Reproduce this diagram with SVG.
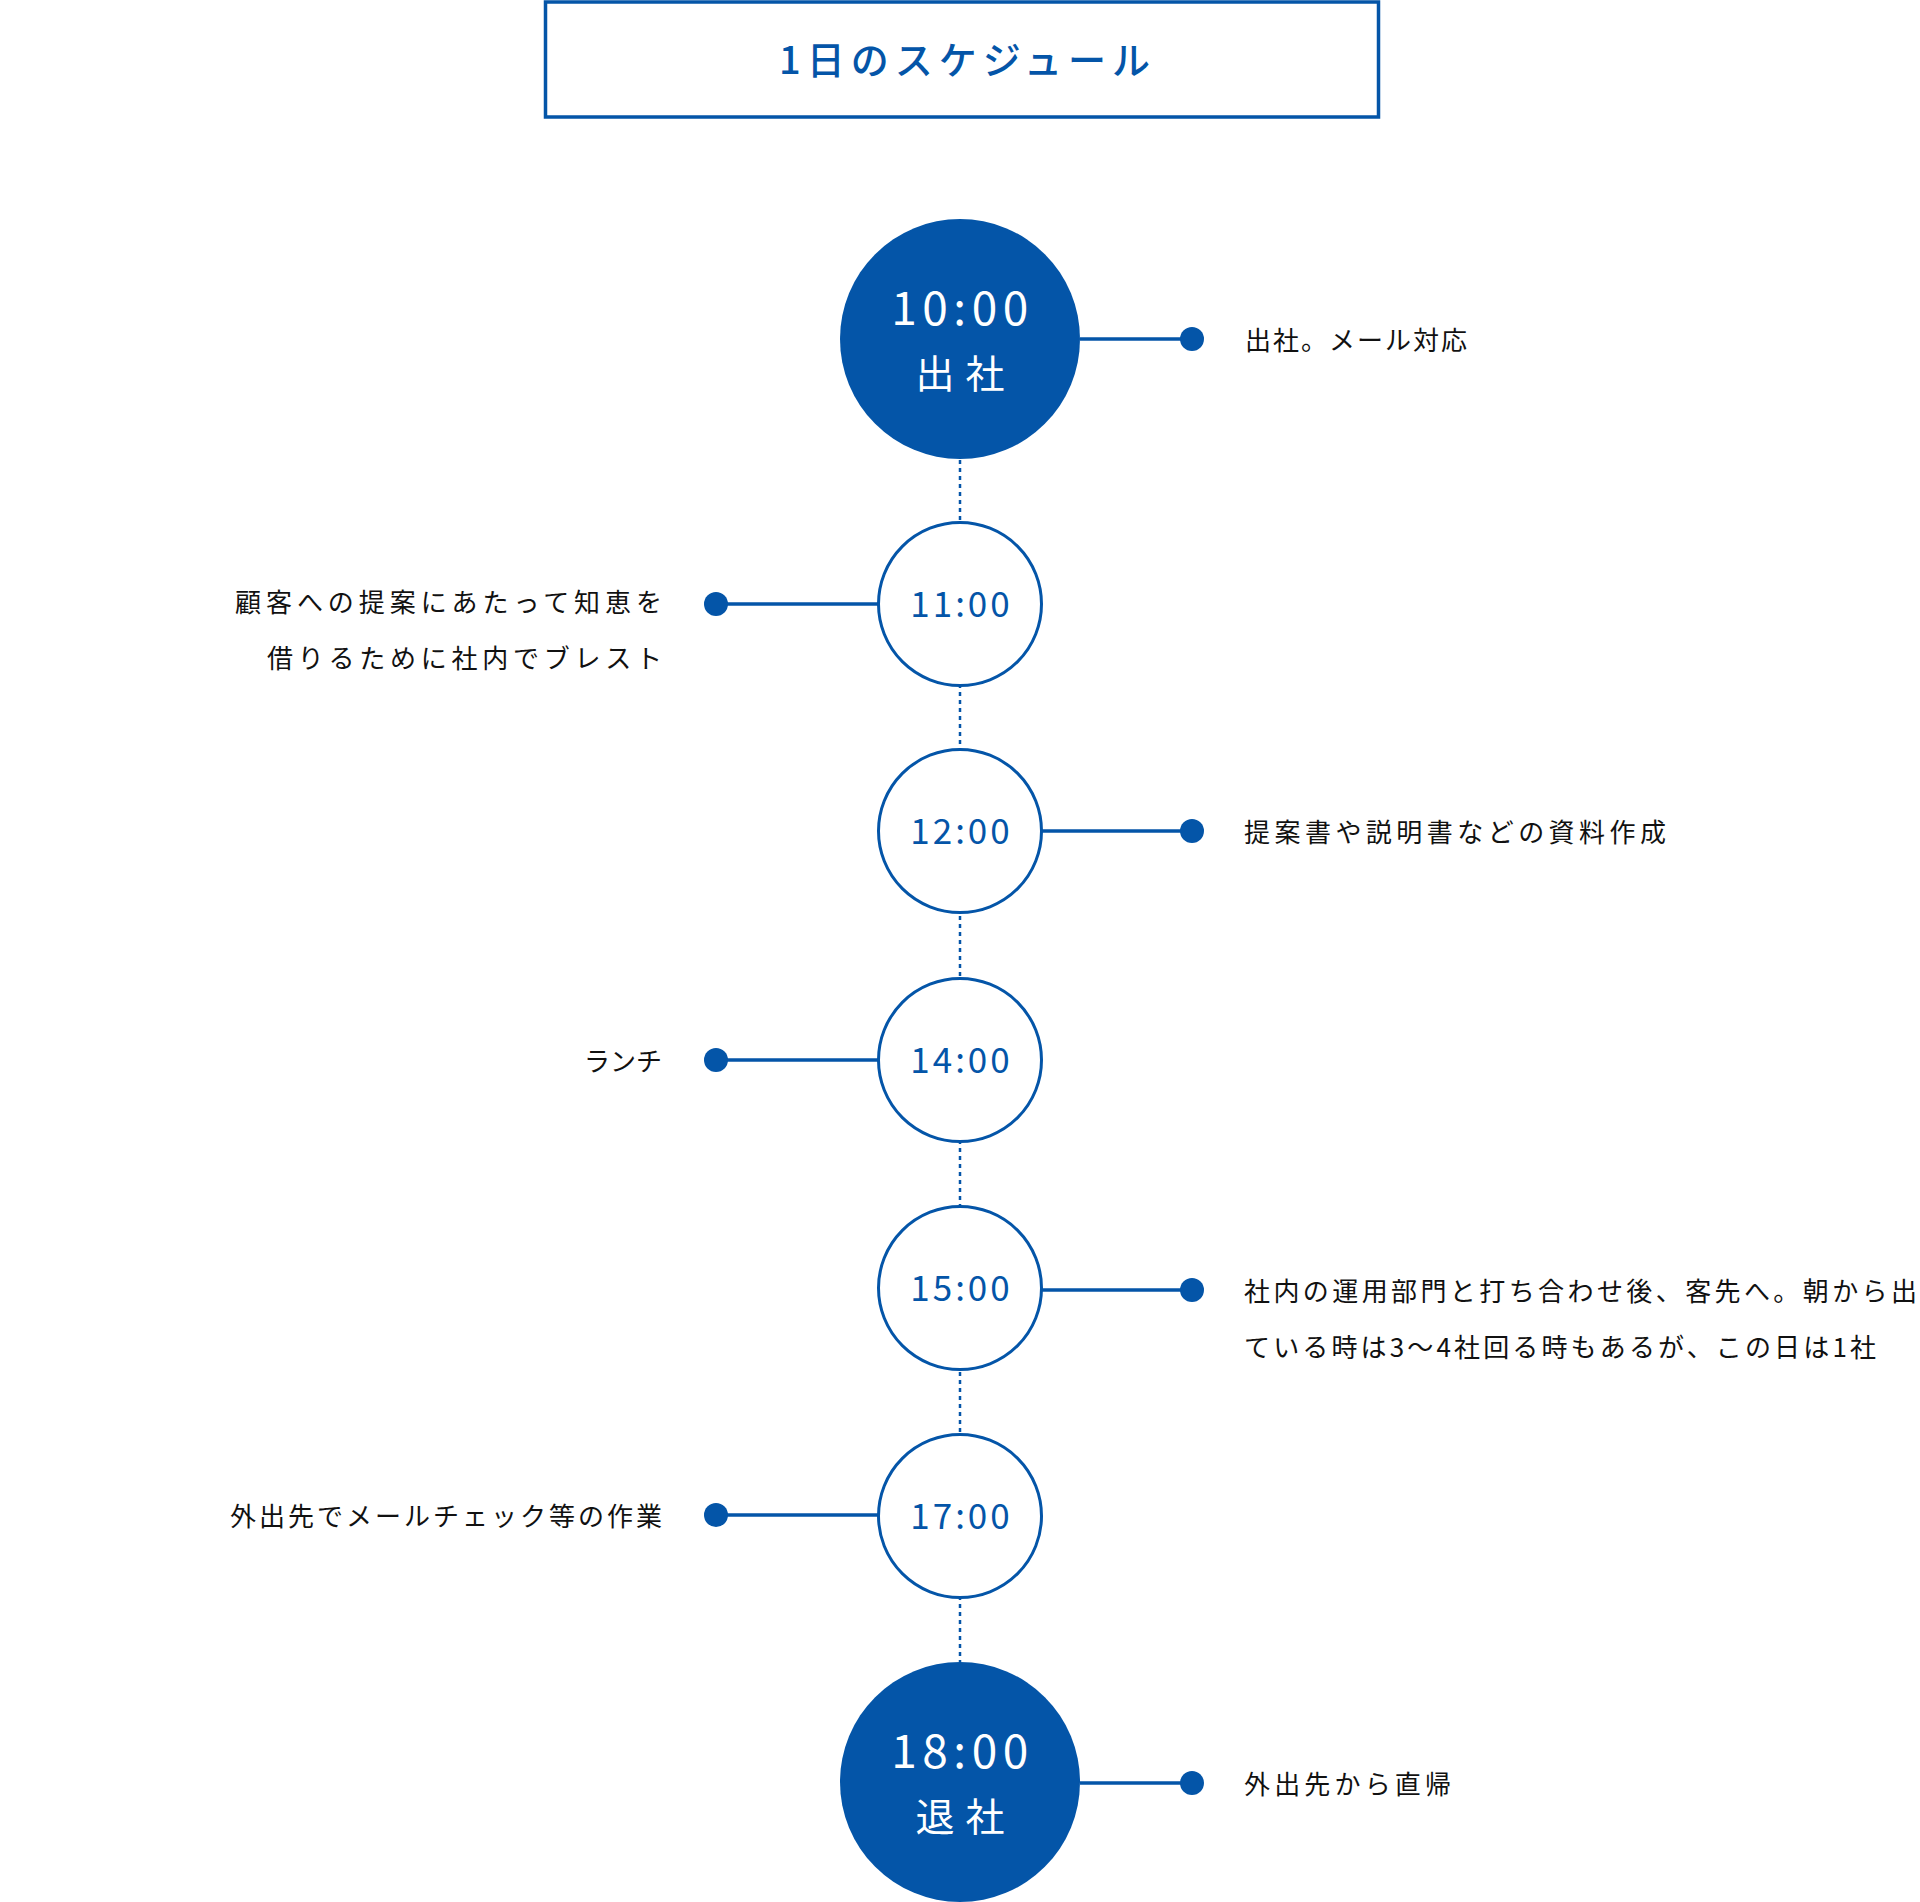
<svg xmlns="http://www.w3.org/2000/svg" width="1920" height="1902" viewBox="0 0 1920 1902">
<style>
.body{font-family:"Noto Sans CJK JP","Noto Sans",sans-serif;font-size:26px;fill:#111;}
.title{font-family:"Noto Sans CJK JP","Noto Sans",sans-serif;font-size:38px;font-weight:500;fill:#0455a8;}
.tsmall{font-family:"Noto Sans CJK JP","Noto Sans",sans-serif;font-size:35px;font-weight:400;fill:#0455a8;letter-spacing:3px;}
.tbig{font-family:"Noto Sans CJK JP","Noto Sans",sans-serif;font-size:46px;font-weight:400;fill:#fff;letter-spacing:5.5px;}
.tbigj{font-family:"Noto Sans CJK JP","Noto Sans",sans-serif;font-size:39px;font-weight:400;fill:#fff;letter-spacing:11px;}
.big{fill:#0455a8;}
.small{fill:#fff;stroke:#0455a8;stroke-width:3;}
.link{stroke:#0455a8;stroke-width:3.5;fill:none;}
.dot{fill:#0455a8;}
.dash{stroke:#0455a8;stroke-width:2.5;stroke-dasharray:4 4;fill:none;}
</style>
<rect width="1920" height="1902" fill="#fff"/>
<g id="title">
<rect x="545.5" y="2" width="833" height="115" fill="#fff" stroke="#0455a8" stroke-width="3.5"/>
<text class="title" x="779" y="74" textLength="371" lengthAdjust="spacing">1日のスケジュール</text>
</g>
<g id="connectors">
<line class="dash" x1="960" y1="460" x2="960" y2="1662"/>
<line class="link" x1="1080" y1="339" x2="1192" y2="339"/>
<circle class="dot" cx="1192" cy="339" r="12"/>
<line class="link" x1="716" y1="604" x2="878" y2="604"/>
<circle class="dot" cx="716" cy="604" r="12"/>
<line class="link" x1="1042" y1="831" x2="1192" y2="831"/>
<circle class="dot" cx="1192" cy="831" r="12"/>
<line class="link" x1="716" y1="1060" x2="878" y2="1060"/>
<circle class="dot" cx="716" cy="1060" r="12"/>
<line class="link" x1="1042" y1="1290" x2="1192" y2="1290"/>
<circle class="dot" cx="1192" cy="1290" r="12"/>
<line class="link" x1="716" y1="1515" x2="878" y2="1515"/>
<circle class="dot" cx="716" cy="1515" r="12"/>
<line class="link" x1="1080" y1="1783" x2="1192" y2="1783"/>
<circle class="dot" cx="1192" cy="1783" r="12"/>
</g>
<g id="n1000">
<circle class="big" cx="960" cy="339" r="120"/>
<text class="tbig" x="962.5" y="325" text-anchor="middle">10:00</text>
<text class="tbigj" x="965.5" y="388" text-anchor="middle">出社</text>
</g>
<g id="n1100">
<circle class="small" cx="960" cy="604" r="81.5"/>
<text class="tsmall" x="961.5" y="616.5" text-anchor="middle">11:00</text>
</g>
<g id="n1200">
<circle class="small" cx="960" cy="831" r="81.5"/>
<text class="tsmall" x="961.5" y="843.5" text-anchor="middle">12:00</text>
</g>
<g id="n1400">
<circle class="small" cx="960" cy="1060" r="81.5"/>
<text class="tsmall" x="961.5" y="1072.5" text-anchor="middle">14:00</text>
</g>
<g id="n1500">
<circle class="small" cx="960" cy="1288" r="81.5"/>
<text class="tsmall" x="961.5" y="1300.5" text-anchor="middle">15:00</text>
</g>
<g id="n1700">
<circle class="small" cx="960" cy="1516" r="81.5"/>
<text class="tsmall" x="961.5" y="1528.5" text-anchor="middle">17:00</text>
</g>
<g id="n1800">
<circle class="big" cx="960" cy="1782" r="120"/>
<text class="tbig" x="962.5" y="1768" text-anchor="middle">18:00</text>
<text class="tbigj" x="965.5" y="1831" text-anchor="middle">退社</text>
</g>
<g id="labels">
<text class="body" x="1245" y="349.5" textLength="222" lengthAdjust="spacing">出社。メール対応</text>
<text class="body" x="235" y="611.5" textLength="427" lengthAdjust="spacing">顧客への提案にあたって知恵を</text>
<text class="body" x="267" y="667.5" textLength="395" lengthAdjust="spacing">借りるために社内でブレスト</text>
<text class="body" x="1244" y="841.5" textLength="422" lengthAdjust="spacing">提案書や説明書などの資料作成</text>
<text class="body" x="584" y="1070.5" textLength="78" lengthAdjust="spacing">ランチ</text>
<text class="body" x="1244" y="1300.5" textLength="673" lengthAdjust="spacing">社内の運用部門と打ち合わせ後、客先へ。朝から出</text>
<text class="body" x="1244" y="1356.5" textLength="632" lengthAdjust="spacing">ている時は3〜4社回る時もあるが、この日は1社</text>
<text class="body" x="230" y="1525.5" textLength="432" lengthAdjust="spacing">外出先でメールチェック等の作業</text>
<text class="body" x="1244" y="1793.5" textLength="207" lengthAdjust="spacing">外出先から直帰</text>
</g>
</svg>
